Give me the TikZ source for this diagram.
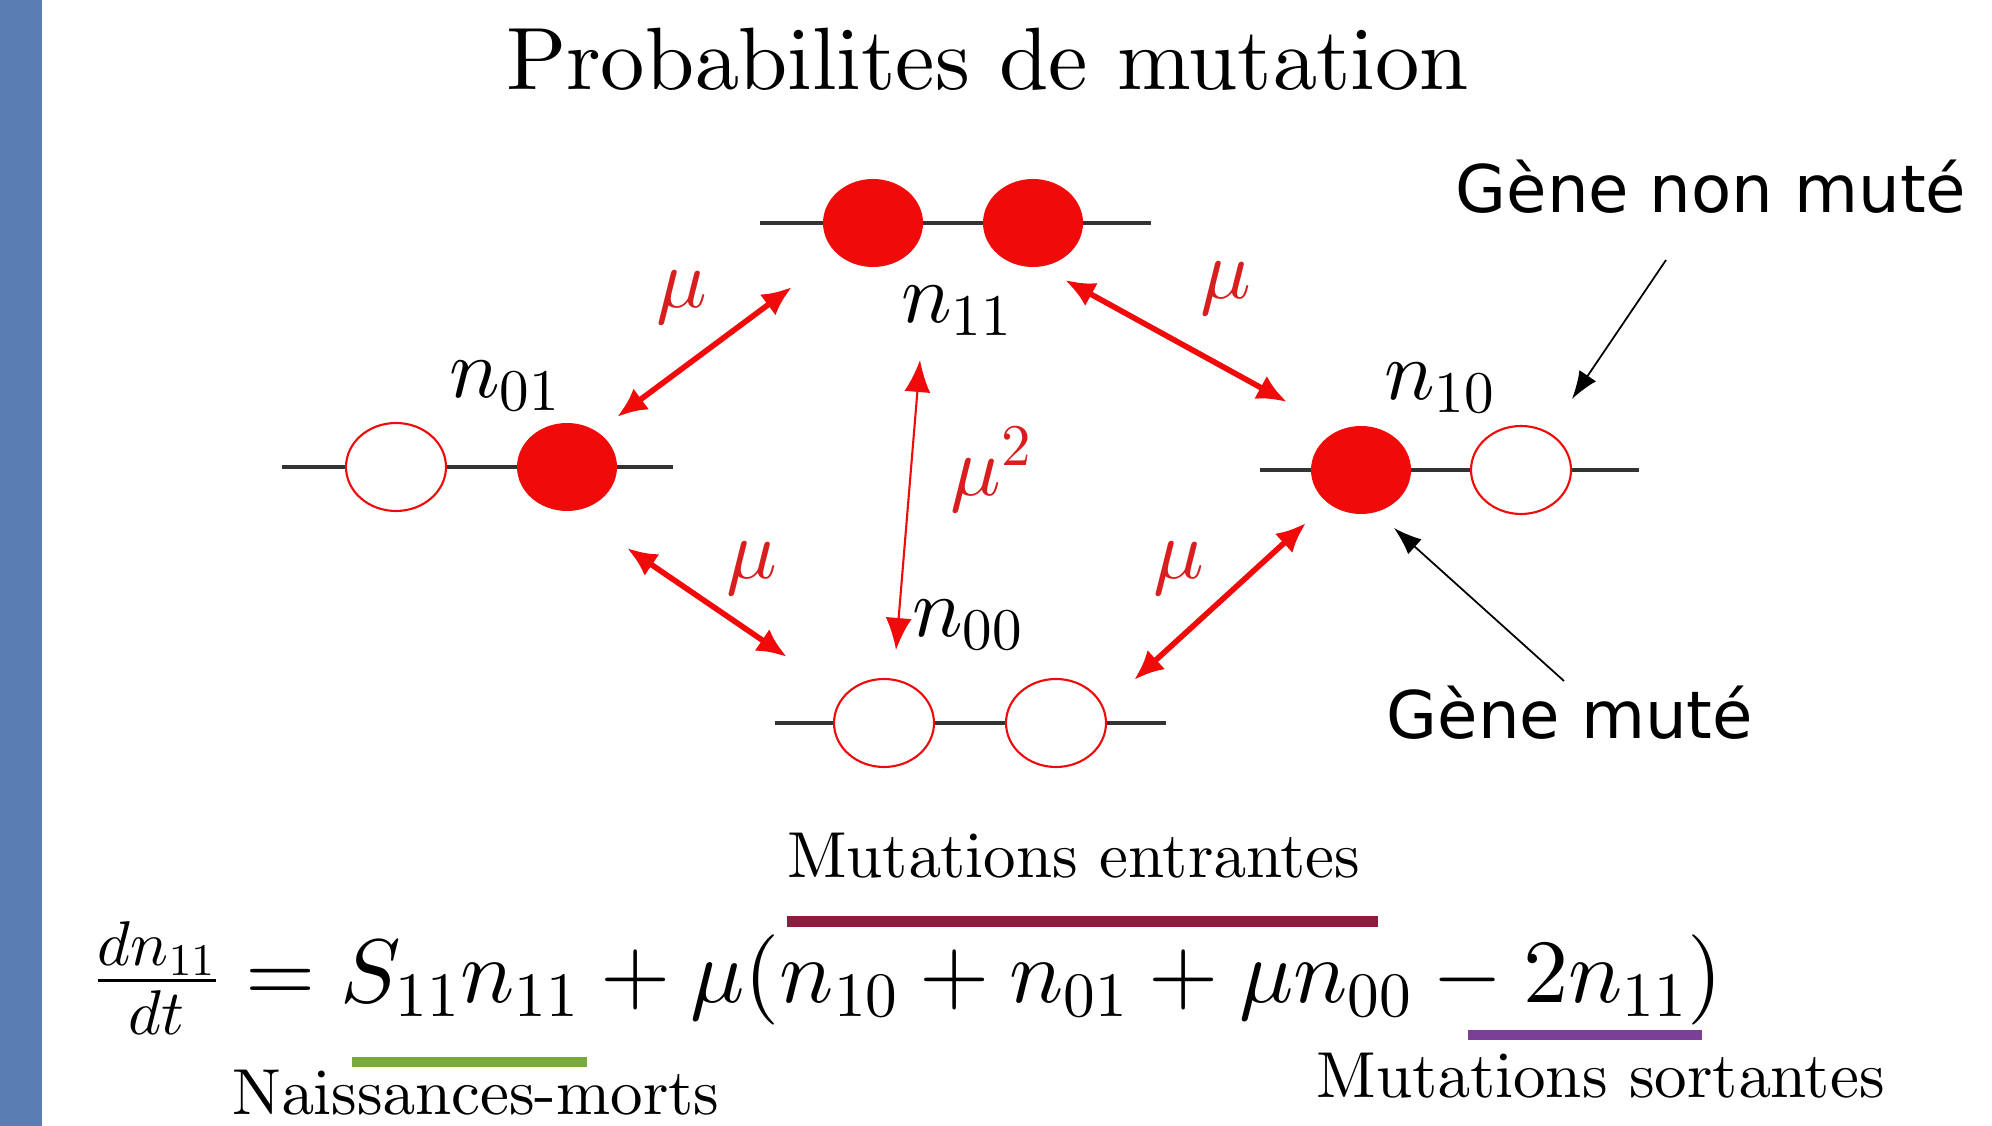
\documentclass[tikz,border=0pt]{standalone}
\usepackage[no-math]{fontspec}
\usepackage{amsmath}
\usetikzlibrary{arrows.meta, shapes.geometric, positioning}
\newfontfamily\genefont{DejaVu Sans}
% polices Computer Modern (dessin 10pt) a toute taille
\DeclareFontFamily{OML}{cmmx}{\skewchar\font127 }
\DeclareFontShape{OML}{cmmx}{m}{it}{<->cmmi10}{}
\DeclareFontFamily{OMS}{cmsx}{\skewchar\font48 }
\DeclareFontShape{OMS}{cmsx}{m}{n}{<->cmsy10}{}
\DeclareFontFamily{OT1}{cmrx}{\hyphenchar\font45 }
\DeclareFontShape{OT1}{cmrx}{m}{n}{<->cmr10}{}
\DeclareSymbolFont{letters}{OML}{cmmx}{m}{it}
\DeclareSymbolFont{symbols}{OMS}{cmsx}{m}{n}
\DeclareSymbolFont{operators}{OT1}{cmrx}{m}{n}
\newcommand\tenrm{\fontencoding{OT1}\fontfamily{cmrx}\selectfont}
\definecolor{mu-red}{HTML}{F00A0A}
\definecolor{mu-label}{HTML}{D81E1E}
\definecolor{mu-side}{HTML}{5A7DB4}
\definecolor{mu-in}{HTML}{8E1C3E}
\definecolor{mu-birth}{HTML}{77AA3A}
\definecolor{mu-out}{HTML}{7B3F98}

\begin{document}
\begin{tikzpicture}[
    allele/.style={ellipse, minimum width=1.0cm, minimum height=0.88cm, inner sep=0pt},
    mut/.style={allele, fill=mu-red},
    wild/.style={allele, draw=mu-red, line width=0.6pt, fill=white},
    chrom/.style={draw=black!80, line width=0.9pt},
    rate/.style={{Latex[length=3mm,width=2.6mm]}-{Latex[length=3mm,width=2.6mm]}, draw=mu-red, line width=1.6pt},
    rate2/.style={{Latex[length=3.2mm,width=2.6mm]}-{Latex[length=3.2mm,width=2.6mm]}, draw=mu-red, line width=0.6pt},
    pointer/.style={-{Latex[length=2.8mm,width=2mm]}, draw=black, line width=0.5pt},
    count/.style={anchor=base, font=\fontsize{24}{28}\selectfont},
    mulabel/.style={anchor=base, text=mu-label, font=\fontsize{24}{28}\selectfont},
    note/.style={anchor=base, font=\genefont\fontsize{18.7}{22}\selectfont},
    caption/.style={anchor=base, font=\tenrm\fontsize{18.5}{22}\selectfont},
    underbar/.style={rectangle, inner sep=0pt, minimum height=0.11cm}
]
\useasboundingbox (0,0) rectangle (19.92,11.26);

% =========================================================================
% BANDE LATERALE ET TITRE
% =========================================================================
\fill[mu-side] (0,0) rectangle (0.42,11.26);
\node[anchor=base, font=\tenrm\fontsize{25.2}{30}\selectfont] (title) at (9.88,10.36) {Probabilites de mutation};

% =========================================================================
% LES QUATRE GENOTYPES (chromosome puis alleles)
% =========================================================================
% n11 en haut
\coordinate (c11w) at (7.60,9.03);
\coordinate (c11e) at (11.51,9.03);
\draw[chrom] (c11w) -- (c11e);
\node[mut] (g11a) at (8.73,9.03) {};
\node[mut] (g11b) at (10.33,9.03) {};
\node[count] (n11) at (9.57,8.03) {$n_{11}$};

% n01 a gauche
\coordinate (c01w) at (2.82,6.59);
\coordinate (c01e) at (6.73,6.59);
\draw[chrom] (c01w) -- (c01e);
\node[wild] (g01a) at (3.96,6.59) {};
\node[mut] (g01b) at (5.67,6.59) {};
\node[count] (n01) at (5.05,7.28) {$n_{01}$};

% n10 a droite
\coordinate (c10w) at (12.60,6.56);
\coordinate (c10e) at (16.39,6.56);
\draw[chrom] (c10w) -- (c10e);
\node[mut] (g10a) at (13.61,6.56) {};
\node[wild] (g10b) at (15.21,6.56) {};
\node[count] (n10) at (14.40,7.26) {$n_{10}$};

% n00 en bas
\coordinate (c00w) at (7.75,4.03);
\coordinate (c00e) at (11.66,4.03);
\draw[chrom] (c00w) -- (c00e);
\node[wild] (g00a) at (8.84,4.03) {};
\node[wild] (g00b) at (10.56,4.03) {};
\node[count] (n00) at (9.68,4.89) {$n_{00}$};

% =========================================================================
% TAUX DE MUTATION (fleches doubles)
% =========================================================================
\coordinate (r1a) at (6.17,7.09);  \coordinate (r1b) at (7.92,8.39);
\coordinate (r2a) at (10.65,8.46); \coordinate (r2b) at (12.87,7.24);
\coordinate (r3a) at (6.27,5.78);  \coordinate (r3b) at (7.87,4.69);
\coordinate (r4a) at (13.06,6.03); \coordinate (r4b) at (11.34,4.46);
\coordinate (r5a) at (9.20,7.66);  \coordinate (r5b) at (8.96,4.76);

\draw[rate] (r1a) -- (r1b);
\draw[rate] (r2a) -- (r2b);
\draw[rate] (r3a) -- (r3b);
\draw[rate] (r4a) -- (r4b);
\draw[rate2] (r5a) -- (r5b);

\node[mulabel] (mu1) at (6.82,8.18) {$\mu$};
\node[mulabel] (mu2) at (12.26,8.27) {$\mu$};
\node[mulabel] (mu3) at (7.52,5.47) {$\mu$};
\node[mulabel] (mu4) at (11.79,5.47) {$\mu$};
\node[mulabel] (mu5) at (9.92,6.30) {$\mu^2$};

% =========================================================================
% LEGENDE DES ALLELES
% =========================================================================
\node[note] (nonmute) at (17.11,9.13) {Gène non muté};
\node[note] (mute) at (15.70,3.87) {Gène muté};
\coordinate (p1) at (16.66,8.66);
\coordinate (p2) at (15.64,4.45);
\draw[pointer] (p1) -- (15.72,7.27);
\draw[pointer] (p2) -- (13.94,5.98);

% =========================================================================
% EQUATION ET SES TERMES
% =========================================================================
\node[anchor=base west, inner sep=0pt, font=\fontsize{25.7}{31}\selectfont] (eq) at (0.93,1.23)
    {$\frac{dn_{11}}{dt} = S_{11}n_{11} + \mu(n_{10} + n_{01} + \mu n_{00} - 2n_{11})$};

\node[underbar, fill=mu-in, minimum width=5.91cm] (barin) at (10.825,2.04) {};
\node[underbar, fill=mu-birth, minimum width=2.35cm, minimum height=0.10cm] (barbirth) at (4.695,0.64) {};
\node[underbar, fill=mu-out, minimum width=2.34cm, minimum height=0.10cm] (barout) at (15.85,0.91) {};

\node[caption] (entr) at (10.74,2.48) {Mutations entrantes};
\node[caption] (sort) at (16.01,0.29) {Mutations sortantes};
\node[caption] (birth) at (4.76,0.11) {Naissances-morts};

\end{tikzpicture}
\end{document}
